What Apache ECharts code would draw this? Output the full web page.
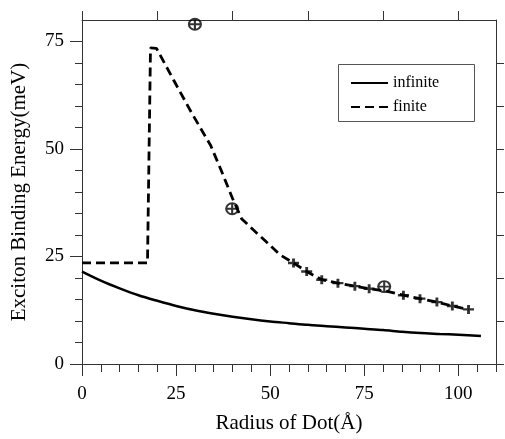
<!DOCTYPE html>
<html>
<head>
<meta charset="utf-8">
<script src="https://cdn.jsdelivr.net/npm/echarts@6/dist/echarts.min.js"></script>
<style>html,body{margin:0;padding:0;background:#fff}#c{width:505px;height:439px}</style>
</head>
<body>
<div id="c"></div>
<script>
// ---- data ----
const infiniteX = [0, 5, 10, 15, 20, 25, 30, 35, 40, 45, 50, 55, 60, 65, 70, 75, 80, 85, 90, 95, 100, 106];
const infiniteY = [21.5, 19.4, 17.6, 16.0, 14.7, 13.5, 12.5, 11.7, 11.0, 10.4, 9.9, 9.5, 9.1, 8.8, 8.5, 8.2, 7.9, 7.5, 7.2, 7.0, 6.8, 6.5];

const finiteX = [0, 17.4, 18.2, 19.8, 24.3, 29, 34.2, 37, 40, 42.4, 45.5, 49.1, 52.6, 56.2, 59.7, 63.7, 68, 72.5, 76.3, 80.5, 85.4, 89.8, 94.3, 98.4, 102.7];
const finiteY = [23.5, 23.5, 73.5, 73.4, 66.1, 58.6, 50.8, 45.0, 38.5, 33.8, 31.2, 28.3, 25.4, 23.5, 21.5, 19.6, 18.8, 18.1, 17.5, 17.0, 16.0, 15.2, 14.4, 13.5, 12.7];

const plusX = [56.2, 59.7, 63.7, 68, 72.5, 76.3, 85.4, 89.8, 94.3, 98.4, 102.7];
const plusY = [23.5, 21.5, 19.6, 18.8, 18.1, 17.5, 16.0, 15.2, 14.4, 13.5, 12.7];

const expX = [30, 39.9, 80.3];
const expY = [79.0, 36.1, 18.0];

const xMajorTicks = [0, 25, 50, 75, 100];
const xMinorTicks = [0, 5, 10, 15, 20, 25, 30, 35, 40, 45, 50, 55, 60, 65, 70, 75, 80, 85, 90, 95, 100, 105, 110];
const xTopTicks = [0, 20, 40, 60, 80, 100];
const yMajorTicks = [0, 25, 50, 75];
const yMinorTicks = [0, 5, 10, 15, 20, 25, 30, 35, 40, 45, 50, 55, 60, 65, 70, 75];
const yRightTicks = [0, 10, 20, 30, 40, 50, 60, 70];

const xTitle = 'Radius of Dot(Å)';
const yTitle = 'Exciton Binding Energy(meV)';
const seriesNames = ['infinite', 'finite'];

// ---- chart ----
const zip = (a, b) => a.map((v, i) => [v, b[i]]);
const FONT = 'Liberation Serif';
const AX = '#333';

const chart = echarts.init(document.getElementById('c'), null, {renderer: 'canvas'});

function baseAxis(extra) {
  return Object.assign({
    type: 'value', min: 0,
    splitLine: {show: false},
    axisLine: {show: false, lineStyle: {color: AX, width: 1}},
    axisTick: {show: false},
    axisLabel: {show: false}
  }, extra);
}

chart.setOption({
  animation: false,
  backgroundColor: '#fff',
  grid: {left: 82, right: 9, top: 20, bottom: 72, containLabel: false},
  xAxis: [
    baseAxis({
      position: 'bottom', max: 110,
      axisLine: {show: true, onZero: false, lineStyle: {color: AX, width: 1}},
      axisTick: {show: true, inside: false, length: 12, customValues: xMajorTicks, lineStyle: {color: AX, width: 1}},
      axisLabel: {show: true, customValues: xMajorTicks, margin: 21, color: '#000', fontFamily: FONT, fontSize: 19},
      name: xTitle, nameLocation: 'middle', nameGap: 49,
      nameTextStyle: {color: '#000', fontFamily: FONT, fontSize: 21}
    }),
    baseAxis({
      position: 'bottom', max: 110,
      axisTick: {show: true, inside: false, length: 8, customValues: xMinorTicks, lineStyle: {color: AX, width: 1}}
    }),
    baseAxis({
      position: 'top', max: 110,
      axisLine: {show: true, onZero: false, lineStyle: {color: AX, width: 1}},
      axisTick: {show: true, inside: false, length: 9, customValues: xTopTicks, lineStyle: {color: AX, width: 1}}
    })
  ],
  yAxis: [
    baseAxis({
      position: 'left', max: 80,
      axisLine: {show: true, onZero: false, lineStyle: {color: AX, width: 1}},
      axisTick: {show: true, inside: false, length: 12, customValues: yMajorTicks, lineStyle: {color: AX, width: 1}},
      axisLabel: {show: true, customValues: yMajorTicks, margin: 18, color: '#000', fontFamily: FONT, fontSize: 19},
      name: yTitle, nameLocation: 'middle', nameGap: 52, nameRotate: 90,
      nameTextStyle: {color: '#000', fontFamily: FONT, fontSize: 21}
    }),
    baseAxis({
      position: 'left', max: 80,
      axisTick: {show: true, inside: false, length: 7, customValues: yMinorTicks, lineStyle: {color: AX, width: 1}}
    }),
    baseAxis({
      position: 'right', max: 80,
      axisLine: {show: true, onZero: false, lineStyle: {color: AX, width: 1}},
      axisTick: {show: true, inside: false, length: 8, customValues: yRightTicks, lineStyle: {color: AX, width: 1}}
    })
  ],
  legend: {
    data: seriesNames,
    orient: 'vertical', left: 350, top: 75,
    itemWidth: 37, itemHeight: 14, itemGap: 8,
    itemStyle: {opacity: 0},
    textStyle: {color: '#000', fontFamily: FONT, fontSize: 16},
    padding: 0
  },
  graphic: [{
    type: 'rect', left: 338, top: 64, z: 0,
    shape: {width: 136, height: 57},
    style: {fill: '#fff', stroke: '#555', lineWidth: 1}
  }],
  series: [
    {
      name: seriesNames[0], type: 'line', data: zip(infiniteX, infiniteY),
      smooth: 0.3, symbol: 'none', z: 3,
      lineStyle: {color: '#000', width: 2.5, type: 'solid'},
      itemStyle: {color: '#000'}
    },
    {
      name: seriesNames[1], type: 'line', data: zip(finiteX, finiteY),
      symbol: 'none', z: 3,
      lineStyle: {color: '#000', width: 2.8, type: [9, 5]},
      itemStyle: {color: '#000'}
    },
    {
      name: 'marks', type: 'scatter', data: zip(plusX, plusY), z: 4,
      symbol: 'path://M0,5 L10,5 M5,0 L5,10', symbolSize: [11, 9],
      itemStyle: {color: 'none', borderColor: '#000', borderWidth: 2.6}
    },
    {
      name: 'exp', type: 'scatter', data: zip(expX, expY), z: 5, clip: false,
      symbol: 'path://M10,0 A10,10 0 1 1 10,20 A10,10 0 1 1 10,0 Z M10,0 L10,20 M0,10 L20,10',
      symbolSize: [12, 11],
      itemStyle: {color: 'none', borderColor: '#000', borderWidth: 2}
    }
  ]
});
</script>
</body>
</html>
